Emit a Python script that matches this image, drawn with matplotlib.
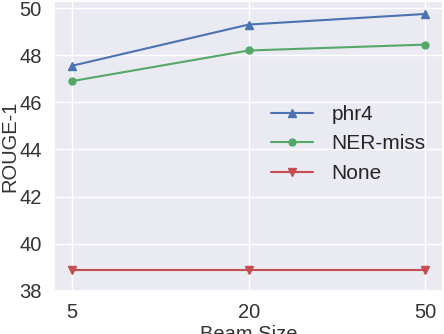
import matplotlib
matplotlib.use("Agg")
import matplotlib.pyplot as plt
import seaborn as sns

sns.set_theme(style="darkgrid", palette="deep")
plt.rcParams['font.family'] = ['Liberation Sans', 'DejaVu Sans']

beam_sizes = ["5", "20", "50"]
phr4 = [47.55, 49.3, 49.75]
ner_miss = [46.9, 48.2, 48.45]
none_vals = [38.9, 38.9, 38.9]

fig = plt.figure(figsize=(4.44, 3.34), dpi=100)
ax = fig.add_axes([0.122, 0.129, 0.876, 0.868])
x = range(len(beam_sizes))
pal = sns.color_palette("deep")
ax.plot(x, phr4, marker="^", color=pal[0], label="phr4", markersize=6, linewidth=1.5)
ax.plot(x, ner_miss, marker="o", color=pal[2], label="NER-miss", markersize=5, linewidth=1.5)
ax.plot(x, none_vals, marker="v", color=pal[3], label="None", markersize=6, linewidth=1.5)
ax.set_xticks(list(x))
ax.set_xticklabels(beam_sizes)
ax.set_xlim(-0.1, 2.1)
ax.set_ylim(38, 50.3)
ax.set_yticks([38, 40, 42, 44, 46, 48, 50])
ax.tick_params(labelsize=14.5, colors="#333333", pad=3)
ax.set_xlabel("Beam Size", fontsize=14.5, color="#333333", labelpad=2)
ax.set_ylabel("ROUGE-1", fontsize=14.5, color="#333333")
ax.yaxis.set_label_coords(-0.09, 0.5)
ax.legend(loc="center left", bbox_to_anchor=(0.51, 0.507), fontsize=15, frameon=False,
          handlelength=2.0, handletextpad=0.9, labelspacing=0.5)
fig.savefig("out.png", dpi=100)
